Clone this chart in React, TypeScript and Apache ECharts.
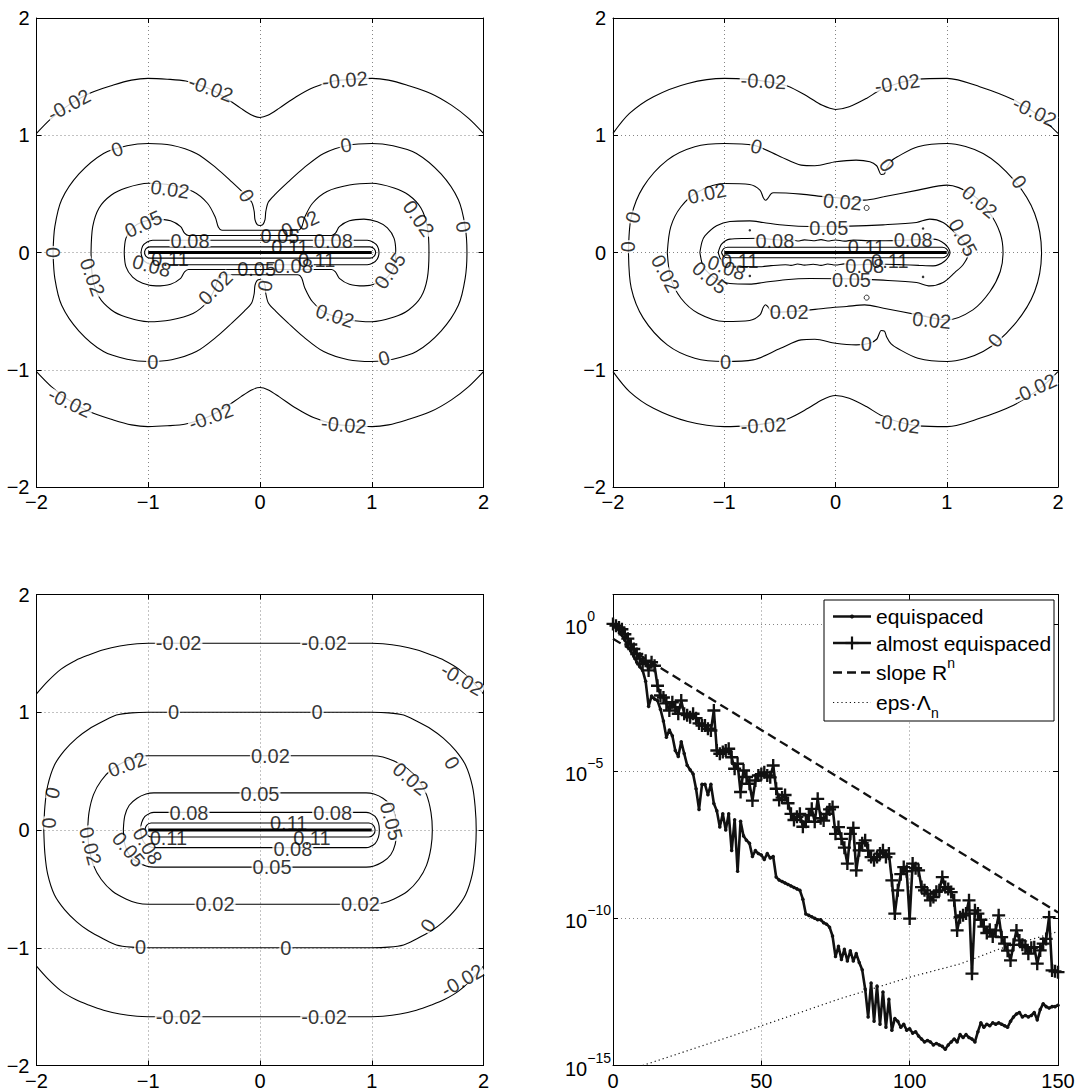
import React, { useEffect, useRef } from 'react';
import * as echarts from 'echarts';

type Pt = [number, number];
type Lbl = [number, number, string, number]; // x, y, text, angle (deg)

// ---------- Panel A (top left): two-lobed level sets ----------
// Quarter arcs in the upper-left quadrant, traced from the left toward x = 0.
const aNeg002: Pt[] = [[-2, 1.016], [-1.867, 1.144], [-1.713, 1.257], [-1.528, 1.357], [-1.312, 1.428], [-1.15, 1.47], [-1.003, 1.485], [-0.83, 1.478], [-0.664, 1.462], [-0.478, 1.408], [-0.324, 1.329], [-0.17, 1.229], [-0.07, 1.17], [0, 1.152]];
const aZero: Pt[] = [[-1.852, 0], [-1.836, 0.22], [-1.775, 0.45], [-1.62, 0.67], [-1.4, 0.845], [-1.19, 0.91], [-1.0, 0.93], [-0.79, 0.915], [-0.57, 0.845], [-0.39, 0.72], [-0.25, 0.6], [-0.14, 0.5], [-0.075, 0.43], [-0.052, 0.35], [-0.045, 0.28], [-0.025, 0.238], [0, 0.23]];
const aPos002: Pt[] = [[-1.512, 0], [-1.497, 0.22], [-1.44, 0.38], [-1.33, 0.49], [-1.2, 0.55], [-1.0, 0.59], [-0.8, 0.575], [-0.6, 0.52], [-0.47, 0.42], [-0.4, 0.3], [-0.372, 0.215], [-0.34, 0.19], [0, 0.19]];
const aPos005: Pt[] = [[-1.215, 0], [-1.2, 0.12], [-1.14, 0.21], [-1.05, 0.262], [-0.93, 0.285], [-0.8, 0.27], [-0.71, 0.22], [-0.675, 0.165], [-0.64, 0.145], [0, 0.145]];
const aPos008: Pt[] = [[-1.065, 0], [-1.05, 0.055], [-1.01, 0.09], [-0.96, 0.105], [0, 0.105]];
const aPos011: Pt[] = [[-1.035, 0], [-1.02, 0.033], [-0.985, 0.048], [0, 0.048]];
const aCore: Pt[] = [[-1, 0], [1, 0]];
const aLabelsInline: Lbl[] = [
  [-1.71, 1.26, '-0.02', 28], [-0.44, 1.4, '-0.02', -20], [0.76, 1.47, '-0.02', 5],
  [-1.7, -1.28, '-0.02', -25], [-0.44, -1.4, '-0.02', 20], [0.75, -1.47, '-0.02', -5],
  [-1.28, 0.88, '0', 20], [0.77, 0.915, '0', 10], [-0.12, 0.485, '0', -60], [-1.85, 0, '0', 90],
  [1.82, 0.22, '0', -80], [0.045, -0.285, '0', 80], [-0.96, -0.93, '0', 0], [1.11, -0.9, '0', 15],
  [-0.805, 0.54, '0.02', -8], [1.42, 0.29, '0.02', -55], [-1.5, -0.21, '0.02', -70],
  [-0.4, -0.3, '0.02', 45], [0.67, -0.54, '0.02', -18],
  [-1.044, 0.243, '0.05', 25], [1.163, -0.156, '0.05', 55],
  [-0.626, 0.094, '0.08', 0], [0.656, 0.094, '0.08', 0], [-0.969, -0.114, '0.08', -15], [0.298, -0.114, '0.08', 0],
];
const aLabelsCrowded: Lbl[] = [
  [-0.805, -0.054, '0.11', 0], [0.268, 0.043, '0.11', 0], [0.507, -0.06, '0.11', 0],
  [0.179, 0.143, '0.05', 0], [0.358, 0.243, '0.02', 25], [-0.03, -0.142, '0.05', 0],
];

// ---------- Panel B (top right): perturbed level sets ----------
// Upper arcs traced from left to right across the full width.
const bNeg002: Pt[] = [[-2, 1.016], [-1.852, 1.186], [-1.636, 1.329], [-1.327, 1.442], [-0.997, 1.485], [-0.802, 1.479], [-0.6, 1.455], [-0.432, 1.42], [-0.247, 1.329], [-0.123, 1.257], [0, 1.22], [0.123, 1.243], [0.278, 1.314], [0.401, 1.385], [0.55, 1.44], [0.741, 1.479], [1.003, 1.485], [1.296, 1.414], [1.605, 1.3], [1.821, 1.172], [2, 1.016]];
const bZero: Pt[] = [[-1.861, 0], [-1.836, 0.304], [-1.728, 0.56], [-1.512, 0.788], [-1.265, 0.902], [-0.997, 0.93], [-0.741, 0.916], [-0.494, 0.817], [-0.309, 0.745], [-0.185, 0.74], [0, 0.774], [0.185, 0.788], [0.309, 0.774], [0.37, 0.74], [0.39, 0.7], [0.41, 0.665], [0.44, 0.67], [0.46, 0.72], [0.5, 0.78], [0.556, 0.817], [0.741, 0.902], [1.003, 0.93], [1.327, 0.845], [1.605, 0.617], [1.79, 0.333], [1.852, 0]];
const bPos002: Pt[] = [[-1.512, 0], [-1.481, 0.219], [-1.389, 0.39], [-1.235, 0.518], [-0.997, 0.589], [-0.772, 0.58], [-0.679, 0.532], [-0.65, 0.47], [-0.63, 0.445], [-0.61, 0.46], [-0.58, 0.5], [-0.556, 0.509], [-0.309, 0.498], [-0.093, 0.475], [0.1, 0.46], [0.262, 0.447], [0.432, 0.475], [0.741, 0.532], [1.003, 0.575], [1.235, 0.489], [1.389, 0.333], [1.481, 0.162], [1.506, 0]];
const bPos005: Pt[] = [[-1.219, 0], [-1.2, 0.09], [-1.174, 0.142], [-1.069, 0.228], [-0.949, 0.265], [-0.77, 0.27], [-0.65, 0.256], [-0.45, 0.232], [-0.23, 0.222], [0.129, 0.225], [0.428, 0.236], [0.728, 0.256], [0.847, 0.285], [0.967, 0.256], [1.072, 0.171], [1.15, 0.1], [1.198, 0]];
const bPos008: Pt[] = [[-1.054, 0], [-1.024, 0.071], [-0.949, 0.114], [-0.8, 0.12], [-0.68, 0.122], [-0.58, 0.112], [-0.45, 0.104], [-0.4, 0.11], [-0.34, 0.098], [-0.28, 0.108], [-0.2, 0.1], [-0.13, 0.11], [-0.07, 0.098], [0, 0.107], [0.08, 0.097], [0.16, 0.106], [0.3, 0.1], [0.45, 0.1], [0.6, 0.104], [0.75, 0.11], [0.877, 0.114], [0.98, 0.075], [1.03, 0]];
const bPos011: Pt[] = [[-1.025, 0], [-1.005, 0.033], [-0.97, 0.045], [0.96, 0.045], [0.995, 0.033], [1.015, 0]];
const bCore: Pt[] = [[-1, 0], [1, 0]];
const bRings: Pt[] = [[0.28, 0.38], [0.28, -0.385]];
const bSpecks: Pt[] = [[-0.77, 0.19], [0.787, 0.205], [-0.77, -0.2], [0.787, -0.208]];
const bLabelsInline: Lbl[] = [
  [-0.648, 1.462, '-0.02', -3], [0.556, 1.442, '-0.02', 8], [1.79, 1.2, '-0.02', -25],
  [-0.648, -1.474, '-0.02', 3], [0.556, -1.46, '-0.02', -8], [1.79, -1.16, '-0.02', 25],
  [-0.71, 0.905, '0', -15], [0.463, 0.745, '0', -55], [1.651, 0.603, '0', -55], [-1.821, 0.3, '0', 75],
  [-1.867, 0.05, '0', 90], [-0.988, -0.933, '0', 0], [0.278, -0.777, '0', 0], [1.435, -0.748, '0', 50],
  [-1.157, 0.504, '0.02', 12], [0.062, 0.432, '0.02', -5], [1.296, 0.432, '0.02', -40],
  [-1.528, -0.179, '0.02', -62], [-0.417, -0.506, '0.02', 0], [0.864, -0.578, '0.02', -5],
  [-0.06, 0.21, '0.05', 0], [1.147, 0.128, '0.05', -62], [-1.129, -0.214, '0.05', -40], [0.144, -0.236, '0.05', 0],
  [-0.545, 0.1, '0.08', 0], [0.698, 0.105, '0.08', 0], [0.263, -0.114, '0.08', 0], [-0.979, -0.128, '0.08', -20],
];
const bLabelsCrowded: Lbl[] = [
  [0.278, 0.043, '0.11', 0], [0.488, -0.071, '0.11', 0], [-0.86, -0.071, '0.11', 0],
];

// ---------- Panel C (bottom left): stadium-shaped level sets ----------
const cNeg002: Pt[] = [[-2, 1.156], [-1.9, 1.262], [-1.78, 1.366], [-1.65, 1.44], [-1.533, 1.486], [-1.4, 1.53], [-1.254, 1.562], [-1.1, 1.582], [-1.0, 1.586], [0, 1.586]];
const cZero: Pt[] = [[-1.935, 0], [-1.925, 0.2], [-1.9, 0.375], [-1.84, 0.55], [-1.749, 0.676], [-1.64, 0.78], [-1.533, 0.856], [-1.4, 0.925], [-1.285, 0.976], [-1.15, 0.995], [-1.0, 1.0], [0, 1.0]];
const cPos002: Pt[] = [[-1.542, 0], [-1.53, 0.15], [-1.49, 0.3], [-1.42, 0.42], [-1.32, 0.52], [-1.2, 0.585], [-1.1, 0.62], [-1.0, 0.631], [0, 0.631]];
const cPos005: Pt[] = [[-1.223, 0], [-1.21, 0.12], [-1.17, 0.21], [-1.1, 0.27], [-1.02, 0.305], [-0.95, 0.315], [0, 0.315]];
const cPos008: Pt[] = [[-1.068, 0], [-1.06, 0.06], [-1.03, 0.115], [-0.98, 0.145], [-0.95, 0.15], [0, 0.15]];
const cPos011: Pt[] = [[-1.03, 0], [-1.015, 0.04], [-0.975, 0.06], [0, 0.06]];
const cCore: Pt[] = [[-1, 0], [1, 0]];
const cLabelsInline: Lbl[] = [
  [-0.728, 1.586, '-0.02', 0], [0.573, 1.586, '-0.02', 0], [1.81, 1.28, '-0.02', -30],
  [-0.728, -1.592, '-0.02', 0], [0.573, -1.592, '-0.02', 0], [1.81, -1.276, '-0.02', 30],
  [-0.774, 1.0, '0', 0], [0.511, 1.0, '0', 0], [1.718, 0.571, '0', -60], [-1.858, 0.315, '0', 75],
  [-1.889, 0.06, '0', 90], [-1.068, -0.991, '0', 0], [0.232, -1.006, '0', 0], [1.502, -0.811, '0', 55],
  [-1.19, 0.556, '0.02', 20], [0.093, 0.631, '0.02', 0], [1.347, 0.435, '0.02', -40],
  [-1.517, -0.135, '0.02', -75], [-0.402, -0.631, '0.02', 0], [0.898, -0.631, '0.02', 0],
  [0, 0.309, '0.05', 0], [1.176, 0.075, '0.05', -75], [-1.176, -0.165, '0.05', -50], [0.108, -0.315, '0.05', 0],
  [-0.635, 0.141, '0.08', 0], [0.65, 0.141, '0.08', 0], [-1.006, -0.135, '0.08', -60], [0.294, -0.159, '0.08', 0],
];
const cLabelsCrowded: Lbl[] = [
  [0.257, 0.06, '0.11', 0], [-0.82, -0.069, '0.11', 0], [0.464, -0.069, '0.11', 0],
];

// ---------- Panel D (bottom right): error against degree n ----------
// log10 of the error for n = 0 … 150
const equispacedLog10: number[] = [
  0, -0.08, -0.2, -0.38, -0.55, -0.75, -0.92, -1.1, -1.3, -1.45,
  -1.58, -1.95, -2.8, -2.45, -2.55, -2.6, -2.9, -3.3, -3.85, -3.6,
  -3.8, -4.3, -4.5, -4.0, -4.4, -4.8, -4.95, -5.1, -5.6, -6.3,
  -5.45, -5.45, -5.8, -5.45, -6.1, -6.35, -6.9, -6.45, -7.0, -6.45,
  -7.7, -6.65, -8.4, -6.7, -7.2, -7.35, -7.45, -7.9, -7.7, -7.8,
  -7.85, -8.0, -7.8, -7.95, -7.9, -8.6, -8.7, -8.75, -8.8, -8.85,
  -8.9, -8.95, -9.0, -9.05, -9.35, -9.85, -9.9, -9.95, -10.0, -10.05,
  -10.05, -10.15, -10.2, -10.3, -10.6, -11.3, -10.95, -11.4, -11.05, -11.45,
  -11.1, -11.45, -11.2, -11.5, -11.75, -12.4, -13.35, -12.2, -13.5, -12.3,
  -13.6, -12.5, -13.7, -12.75, -13.8, -13.4, -13.5, -13.7, -13.6, -13.8,
  -13.75, -13.9, -13.85, -14.0, -14.1, -14.2, -14.15, -14.2, -14.3, -14.25,
  -14.3, -14.35, -14.45, -14.3, -14.2, -14.1, -14.2, -13.95, -14.05, -13.95,
  -14.05, -14.1, -14.2, -13.85, -13.55, -13.7, -13.6, -13.65, -13.55, -13.6,
  -13.55, -13.6, -13.65, -13.7, -13.5, -13.35, -13.25, -13.2, -13.35, -13.3,
  -13.35, -13.3, -13.2, -13.45, -13.1, -12.9, -13.0, -13.05, -13.0, -13.0,
  -12.95,
];
const almostLog10: number[] = [
  0, -0.06, -0.12, -0.18, -0.35, -0.5, -0.7, -0.85, -1.02, -1.18,
  -1.36, -1.25, -1.58, -1.3, -1.42, -2.1, -2.43, -2.5, -2.7, -2.94,
  -2.66, -2.83, -3.05, -2.6, -3.05, -3.1, -3.17, -3.05, -3.2, -3.38,
  -3.45, -3.45, -3.56, -3.62, -2.94, -4.3, -4.41, -4.35, -4.3, -4.24,
  -4.53, -4.92, -4.75, -5.71, -4.98, -5.2, -5.43, -6.0, -5.32, -5.15,
  -5.1, -5.04, -5.15, -5.21, -4.81, -5.6, -5.98, -5.9, -5.81, -6.09,
  -6.45, -6.66, -6.55, -6.45, -6.89, -6.72, -6.5, -6.28, -6.72, -5.94,
  -6.6, -6.68, -6.45, -6.3, -6.22, -7.13, -6.9, -7.3, -7.6, -8.14,
  -7.13, -6.93, -8.37, -7.69, -7.45, -7.35, -7.7, -7.92, -8.03, -7.92,
  -7.8, -7.69, -7.92, -7.8, -8.71, -9.84, -9.05, -8.5, -8.26, -8.4,
  -10.01, -8.14, -8.3, -8.37, -8.94, -9.05, -9.16, -9.39, -9.28, -9.1,
  -9.05, -8.6, -8.94, -9.0, -9.11, -9.39, -10.41, -9.96, -9.9, -9.84,
  -9.39, -11.88, -9.73, -9.84, -10.05, -10.28, -10.5, -10.39, -10.62, -10.41,
  -9.9, -10.64, -10.86, -11.1, -11.43, -10.9, -10.41, -10.75, -10.9, -10.98,
  -11.2, -11.0, -10.98, -11.54, -11.09, -10.86, -10.7, -9.96, -11.77, -11.8,
  -11.83,
];
const slopeN: number[] = [0, 150];
const slopeLog10: number[] = [-0.5, -9.8];
const epsN: number[] = [10, 40, 76, 100, 117, 130, 150];
const epsLog10: number[] = [-15.0, -14.0, -12.75, -12.0, -11.55, -11.05, -10.45];

const squareTicks: number[] = [-2, -1, 0, 1, 2];
const degreeTicks: number[] = [0, 50, 100, 150];

// ---------- helpers ----------
const FONT = '"Liberation Sans", Arial, Helvetica, sans-serif';
const INK = '#000';
const TXT = '#000';
const flipX = (p: Pt): Pt => [-p[0], p[1]];
const flipY = (p: Pt): Pt => [p[0], -p[1]];
// upper-left quarter -> full upper arc, by the symmetry x -> -x
const spanX = (q: Pt[]): Pt[] => [...q, ...q.slice(0, -1).reverse().map(flipX)];
// upper arc -> closed curve, by the symmetry y -> -y
const closeY = (u: Pt[]): Pt[] => [...u, ...u.slice(0, -1).reverse().map(flipY)];
const signed = (v: number) => (v < 0 ? '\u2212' + Math.abs(v) : String(v));

const GRIDS = [
  { left: 36.5, top: 18, width: 447, height: 469 },
  { left: 613, top: 18, width: 445, height: 469 },
  { left: 36.5, top: 594.5, width: 447, height: 471 },
  { left: 613, top: 594.5, width: 445, height: 471 },
];

const AX_LINE = { show: true, onZero: false, lineStyle: { color: '#000', width: 1 } };
const TICK_IN = { show: true, inside: true, length: 5, lineStyle: { color: '#000', width: 1 } };
const DOTTED = { show: true, lineStyle: { color: '#858585', width: 1, type: [1, 3] } };
const LABEL = { fontSize: 20, color: TXT, fontFamily: FONT };

function contour(data: Pt[], g: number, width = 1.1) {
  return {
    type: 'line', xAxisIndex: 2 * g, yAxisIndex: 2 * g, data, symbol: 'none', showSymbol: false,
    smooth: 0.3, silent: true, z: 2, lineStyle: { color: INK, width },
  };
}

function labels(list: Lbl[], g: number, inline: boolean) {
  return {
    type: 'scatter', xAxisIndex: 2 * g, yAxisIndex: 2 * g, symbolSize: 1, silent: true, z: inline ? 4 : 5,
    itemStyle: { color: 'rgba(0,0,0,0)' },
    label: {
      show: true, position: 'inside', fontSize: 20, fontFamily: FONT, color: TXT, lineHeight: 11,
      backgroundColor: inline ? '#fff' : 'transparent', padding: [0, 1],
    },
    data: list.map(([x, y, t, r]) => ({ value: [x, y], label: { formatter: t, rotate: r } })),
  };
}

function squareAxes(g: number) {
  const base = { gridIndex: g, type: 'value', min: squareTicks[0], max: squareTicks[squareTicks.length - 1], interval: 1 };
  const x = [
    { ...base, position: 'bottom', axisLine: AX_LINE, axisTick: TICK_IN, splitLine: DOTTED,
      axisLabel: { ...LABEL, margin: 5, formatter: signed, showMinLabel: true, showMaxLabel: true } },
    { ...base, position: 'top', axisLine: AX_LINE, axisTick: TICK_IN, splitLine: { show: false }, axisLabel: { show: false } },
  ];
  const y = [
    { ...base, position: 'left', axisLine: AX_LINE, axisTick: TICK_IN, splitLine: DOTTED,
      axisLabel: { ...LABEL, margin: 7, formatter: signed, showMinLabel: true, showMaxLabel: true } },
    { ...base, position: 'right', axisLine: AX_LINE, axisTick: TICK_IN, splitLine: { show: false }, axisLabel: { show: false } },
  ];
  return { x, y };
}

function buildOption() {
  const A = squareAxes(0);
  const B = squareAxes(1);
  const C = squareAxes(2);

  const dx = { gridIndex: 3, type: 'value', min: degreeTicks[0], max: degreeTicks[degreeTicks.length - 1], interval: 50 };
  const dy = { gridIndex: 3, type: 'log', logBase: 10, min: 1e-15, max: 10, interval: 5 };
  const logTick = (v: number) => {
    const e = Math.round(Math.log10(v));
    if (e > 0) return '';
    return `{b|10}{s|${e < 0 ? '\u2212' + -e : e}}`;
  };
  const D = {
    x: [
      { ...dx, position: 'bottom', axisLine: AX_LINE, axisTick: TICK_IN, splitLine: DOTTED,
        axisLabel: { ...LABEL, margin: 5, showMinLabel: true, showMaxLabel: true } },
      { ...dx, position: 'top', axisLine: AX_LINE, axisTick: TICK_IN, splitLine: { show: false }, axisLabel: { show: false } },
    ],
    y: [
      { ...dy, position: 'left', axisLine: AX_LINE, axisTick: TICK_IN, splitLine: DOTTED, minorTick: { show: false },
        axisLabel: {
          align: 'left', margin: 48, formatter: logTick, showMinLabel: true, showMaxLabel: false,
          rich: {
            b: { fontSize: 20, fontFamily: FONT, color: TXT, verticalAlign: 'bottom', padding: [0, 0, 2, 0] },
            s: { fontSize: 14, fontFamily: FONT, color: TXT, verticalAlign: 'top', padding: [0, 0, 16, 0] },
          },
        } },
      { ...dy, position: 'right', axisLine: AX_LINE, axisTick: TICK_IN, splitLine: { show: false }, axisLabel: { show: false } },
    ],
  };

  const series: any[] = [
    contour(spanX(aNeg002), 0), contour(spanX(aNeg002).map(flipY), 0),
    contour(closeY(spanX(aZero)), 0), contour(closeY(spanX(aPos002)), 0), contour(closeY(spanX(aPos005)), 0),
    contour(closeY(spanX(aPos008)), 0), contour(closeY(spanX(aPos011)), 0), contour(aCore, 0, 3.2),
    labels(aLabelsInline, 0, true), labels(aLabelsCrowded, 0, false),

    contour(bNeg002, 1), contour(bNeg002.map(flipY), 1),
    contour(closeY(bZero), 1), contour(closeY(bPos002), 1), contour(closeY(bPos005), 1),
    contour(closeY(bPos008), 1), contour(closeY(bPos011), 1), contour(bCore, 1, 3.2),
    { type: 'scatter', xAxisIndex: 2, yAxisIndex: 2, data: bRings, symbol: 'circle', symbolSize: 5, silent: true, z: 3,
      itemStyle: { color: '#fff', borderColor: INK, borderWidth: 1 } },
    { type: 'scatter', xAxisIndex: 2, yAxisIndex: 2, data: bSpecks, symbol: 'circle', symbolSize: 2.5, silent: true, z: 3,
      itemStyle: { color: INK } },
    labels(bLabelsInline, 1, true), labels(bLabelsCrowded, 1, false),

    contour(spanX(cNeg002), 2), contour(spanX(cNeg002).map(flipY), 2),
    contour(closeY(spanX(cZero)), 2), contour(closeY(spanX(cPos002)), 2), contour(closeY(spanX(cPos005)), 2),
    contour(closeY(spanX(cPos008)), 2), contour(closeY(spanX(cPos011)), 2), contour(cCore, 2, 3.2),
    labels(cLabelsInline, 2, true), labels(cLabelsCrowded, 2, false),

    { name: 'equispaced', type: 'line', xAxisIndex: 6, yAxisIndex: 6, silent: true, z: 3,
      data: equispacedLog10.map((e, n) => [n, Math.pow(10, e)]),
      symbol: 'circle', symbolSize: 3.5, showSymbol: true,
      lineStyle: { color: '#111', width: 2.6 }, itemStyle: { color: '#111' } },
    { name: 'almost equispaced', type: 'line', xAxisIndex: 6, yAxisIndex: 6, silent: true, z: 4,
      data: almostLog10.map((e, n) => [n, Math.pow(10, e)]),
      symbol: 'path://M4.1,0H5.9V10H4.1Z M0,4.1H10V5.9H0Z', symbolSize: 13, showSymbol: true,
      lineStyle: { color: '#111', width: 2.6 }, itemStyle: { color: '#111' } },
    { name: 'slope R', type: 'line', xAxisIndex: 6, yAxisIndex: 6, silent: true, z: 3,
      data: slopeN.map((n, i) => [n, Math.pow(10, slopeLog10[i])]), symbol: 'none',
      lineStyle: { color: '#111', width: 2.3, type: [9, 5] } },
    { name: 'eps·Λ', type: 'line', xAxisIndex: 6, yAxisIndex: 6, silent: true, z: 3,
      data: epsN.map((n, i) => [n, Math.pow(10, epsLog10[i])]), symbol: 'none',
      lineStyle: { color: '#111', width: 1.2, type: [1.2, 3] } },
  ];

  // legend box of the bottom-right panel
  const rich = {
    t: { fontSize: 21, fontFamily: FONT, fill: TXT, color: TXT },
    sup: { fontSize: 14, fontFamily: FONT, fill: TXT, color: TXT, verticalAlign: 'top', padding: [0, 0, 20, 0] },
    sub: { fontSize: 14, fontFamily: FONT, fill: TXT, color: TXT, verticalAlign: 'bottom', padding: [20, 0, 0, 0] },
  };
  const rows = [616.5, 643, 672.5, 702.5];
  const lx0 = 833, lx1 = 871, lxm = 852, tx = 876;
  const txt = (y: number, text: string) => ({
    type: 'text', x: tx, y, z: 102, silent: true,
    style: { text, rich, align: 'left', textAlign: 'left', verticalAlign: 'middle', textVerticalAlign: 'middle', fill: TXT },
  });
  const seg = (y: number, extra: any) => ({
    type: 'line', z: 101, silent: true, shape: { x1: lx0, y1: y, x2: lx1, y2: y },
    style: { stroke: '#111', ...extra },
  });
  const graphic = [
    { type: 'rect', z: 100, silent: true, shape: { x: 824, y: 600, width: 230, height: 121 },
      style: { fill: '#fff', stroke: '#000', lineWidth: 1 } },
    seg(rows[0], { lineWidth: 2.6 }),
    { type: 'circle', z: 102, silent: true, shape: { cx: lxm, cy: rows[0], r: 2 }, style: { fill: '#111' } },
    seg(rows[1], { lineWidth: 2.6 }),
    { type: 'line', z: 102, silent: true, shape: { x1: lxm - 6.5, y1: rows[1], x2: lxm + 6.5, y2: rows[1] }, style: { stroke: '#111', lineWidth: 2.2 } },
    { type: 'line', z: 102, silent: true, shape: { x1: lxm, y1: rows[1] - 6.5, x2: lxm, y2: rows[1] + 6.5 }, style: { stroke: '#111', lineWidth: 2.2 } },
    seg(rows[2], { lineWidth: 2.3, lineDash: [9, 5] }),
    seg(rows[3], { lineWidth: 1.2, lineDash: [1.2, 3] }),
    txt(rows[0], '{t|equispaced}'),
    txt(rows[1], '{t|almost equispaced}'),
    txt(rows[2], '{t|slope R}{sup|n}'),
    txt(rows[3], '{t|eps\u00b7\u039b}{sub|n}'),
  ];

  return {
    animation: false,
    backgroundColor: '#fff',
    grid: GRIDS.map((g) => ({ ...g, containLabel: false, outerBoundsMode: 'none', show: false })),
    xAxis: [...A.x, ...B.x, ...C.x, ...D.x],
    yAxis: [...A.y, ...B.y, ...C.y, ...D.y],
    series,
    graphic,
  };
}

export default function App() {
  const ref = useRef<HTMLDivElement>(null);
  useEffect(() => {
    if (!ref.current) return;
    const chart = echarts.init(ref.current, null, { renderer: 'svg' });
    chart.setOption(buildOption() as any);
    return () => chart.dispose();
  }, []);
  return (
    <div
      ref={ref}
      style={{ position: 'absolute', left: 0, top: 0, width: 1079, height: 1092, background: '#fff' }}
    />
  );
}
